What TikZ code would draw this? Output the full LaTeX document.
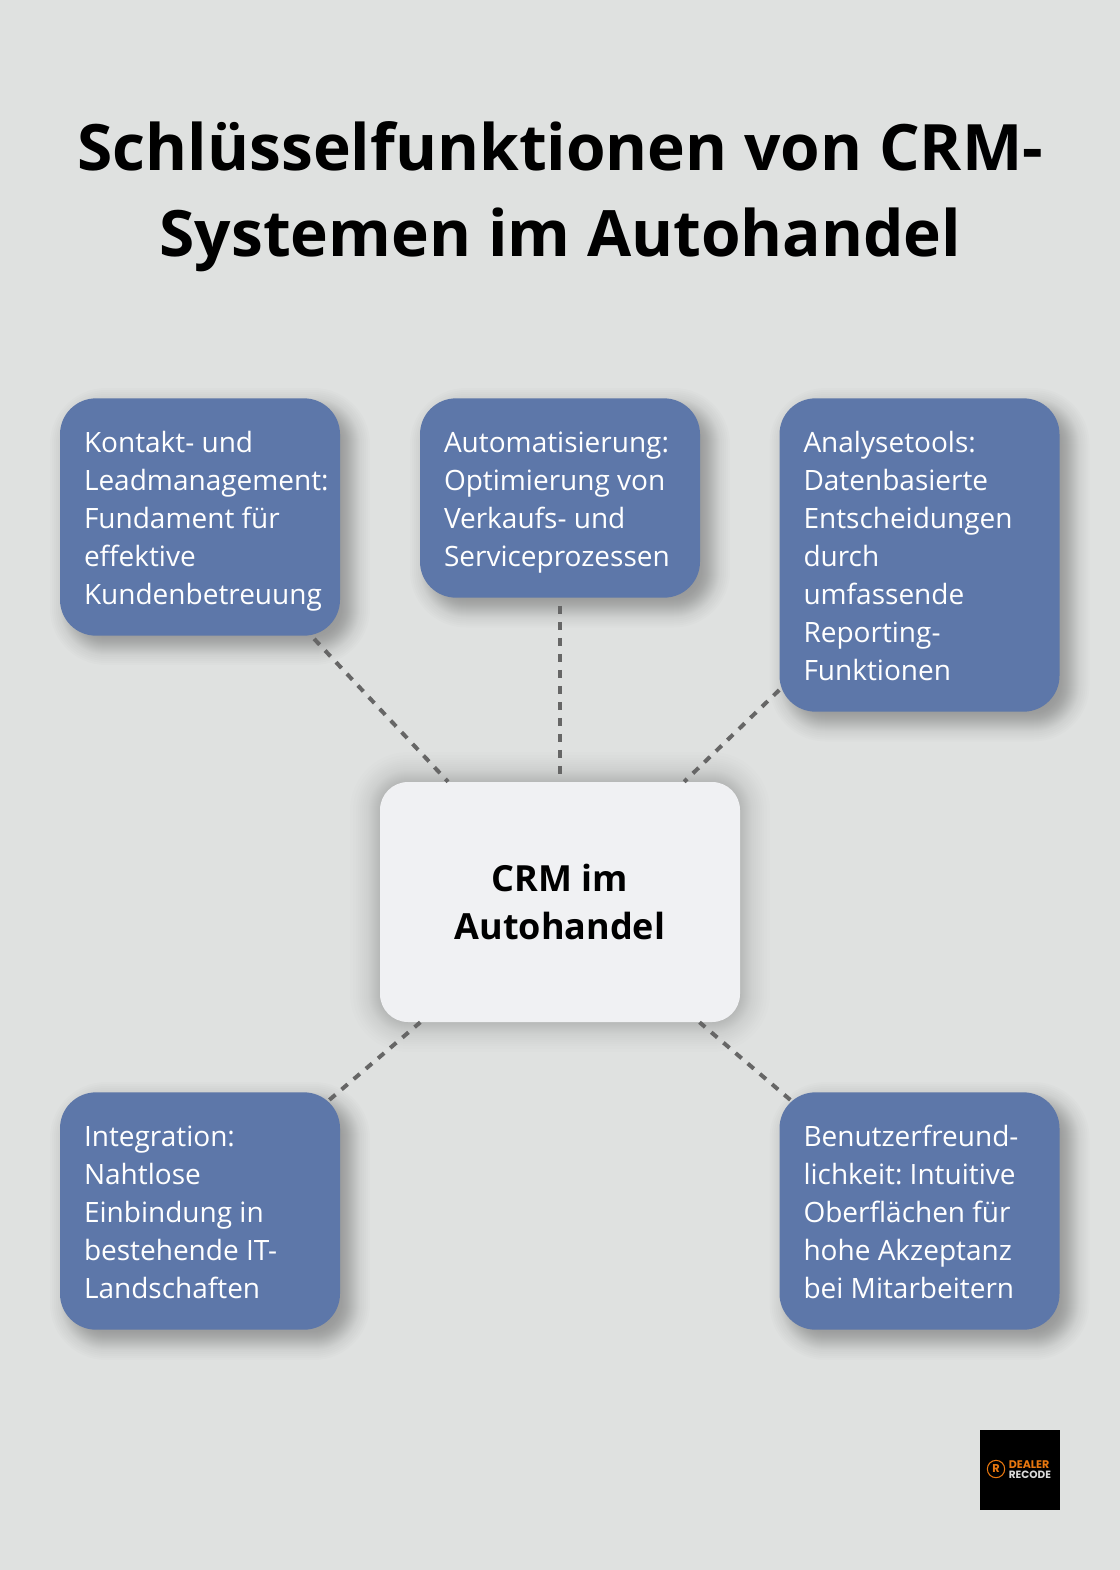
\documentclass[tikz,border=0pt]{standalone}
\usepackage{fontspec}
\setmainfont{Open Sans}
\newfontfamily\logofont{Poppins}
\usepackage{tikz}
\usetikzlibrary{positioning}

\definecolor{bgGray}{HTML}{DFE1E0}
\definecolor{boxBlue}{HTML}{5D77A9}
\definecolor{centerGray}{HTML}{F0F1F3}
\definecolor{dashGray}{HTML}{666666}
\definecolor{logoOrange}{HTML}{E8770F}
\definecolor{logoGray}{HTML}{D9D9D9}

% corners x0,y0,x1,y1, then radius in pt, opacity, list of growth steps
\newcommand{\softshadow}[7]{
  \foreach \g in {#7} {
    \pgfmathsetmacro{\rad}{max(#5+0.75*\g,1)}
    \fill[black, opacity=#6, rounded corners=\rad pt] (#1-\g,#2-\g) rectangle (#3+\g,#4+\g);
  }
}

\tikzset{
  topicbox/.style={fill=boxBlue, rounded corners=27pt, text=white, minimum width=210pt,
    text width=174pt, inner xsep=18pt, inner ysep=0pt, align=flush left,
    font=\fontsize{21}{28.5}\selectfont\frenchspacing,
    execute at begin node={\rule{0pt}{22pt}},
    execute at end node={\rule[-5pt]{0pt}{5pt}}},
  centerbox/.style={fill=centerGray, rounded corners=21pt, text=black, minimum width=270pt,
    minimum height=180pt, align=center, font=\fontsize{27}{36}\selectfont\bfseries,
    execute at begin node={\rule{0pt}{21.5pt}}},
  link/.style={draw=dashGray, line width=3pt, dash pattern=on 6pt off 6pt}
}

\begin{document}
\begin{tikzpicture}[x=0.75pt,y=-0.75pt]
\fill[bgGray] (0,0) rectangle (1120,1570);
\useasboundingbox (0,0) rectangle (1120,1570);

\node[align=center, font=\fontsize{48}{64.5}\selectfont\bfseries] (title) at (560.5,196.5)
  {Schlüsselfunktionen von CRM-\\Systemen im Autohandel};

% shadows first
\foreach \xa/\ya/\xb/\yb in {60/398/340/635, 420/398/700/597.5, 779.5/398/1059.5/711.5,
    60/1092/340/1330, 779.5/1092/1059.5/1330} {
  \softshadow{\xa+10}{\ya+10}{\xb+10}{\yb+10}{27}{0.0125}{-12,-10,-8,-7,-6,-5,-4,-3,-2,-1,0,1,2,3,4,5,6,7,8,9,10,12,14,16,18,20}
}
\softshadow{380}{782}{740}{1022}{21}{0.006}{1,2,3,4,5,6,7,8,9,10,11,12,14,16,18,20,22,24,27,30}

\node[topicbox, minimum height=178pt] (kontakt) at (200,517)
  {Kontakt- und\\Leadmanagement:\\Fundament für\\effektive\\Kundenbetreuung};
\node[topicbox, minimum height=149.5pt] (auto) at (560,498)
  {Automatisierung:\\Optimierung von\\Verkaufs- und\\Serviceprozessen};
\node[topicbox, minimum height=235pt] (analyse) at (919.5,555)
  {Analysetools:\\Datenbasierte\\Entscheidungen\\durch\\umfassende\\Reporting-\\Funktionen};
\node[topicbox, minimum height=178pt] (integration) at (200,1211)
  {Integration:\\Nahtlose\\Einbindung in\\bestehende IT-\\Landschaften};
\node[topicbox, minimum height=178pt] (benutzer) at (919.5,1211)
  {Benutzerfreund-\\lichkeit: Intuitive\\Oberflächen für\\hohe Akzeptanz\\bei Mitarbeitern};

\node[centerbox] (crm) at (560,902) {CRM im\\Autohandel};

\draw[link, shorten <=3pt] (kontakt) -- (crm);
\draw[link, shorten <=6pt, shorten >=5pt] (auto) -- (crm);
\draw[link, shorten <=0pt] (analyse) -- (crm);
\draw[link, shorten <=-9pt] (integration) -- (crm);
\draw[link, shorten <=-9pt] (benutzer) -- (crm);

% logo
\node[fill=black, minimum size=60pt, inner sep=0pt] (logo) at (1020,1470) {};
\node[circle, draw=logoOrange, line width=0.8pt, minimum size=13pt, inner sep=0pt,
  text=logoOrange, font=\logofont\fontsize{8.5}{8.5}\selectfont\bfseries] (logomark) at (996,1469) {R};
\node[anchor=west, inner sep=0pt, text=logoOrange, font=\logofont\fontsize{8.3}{8.3}\selectfont\bfseries] (dealer) at (1008.5,1465) {DEALER};
\node[anchor=west, inner sep=0pt, text=logoGray, font=\logofont\fontsize{7.9}{7.9}\selectfont\bfseries] (recode) at (1008.5,1474.5) {RECODE};

\end{tikzpicture}
\end{document}
